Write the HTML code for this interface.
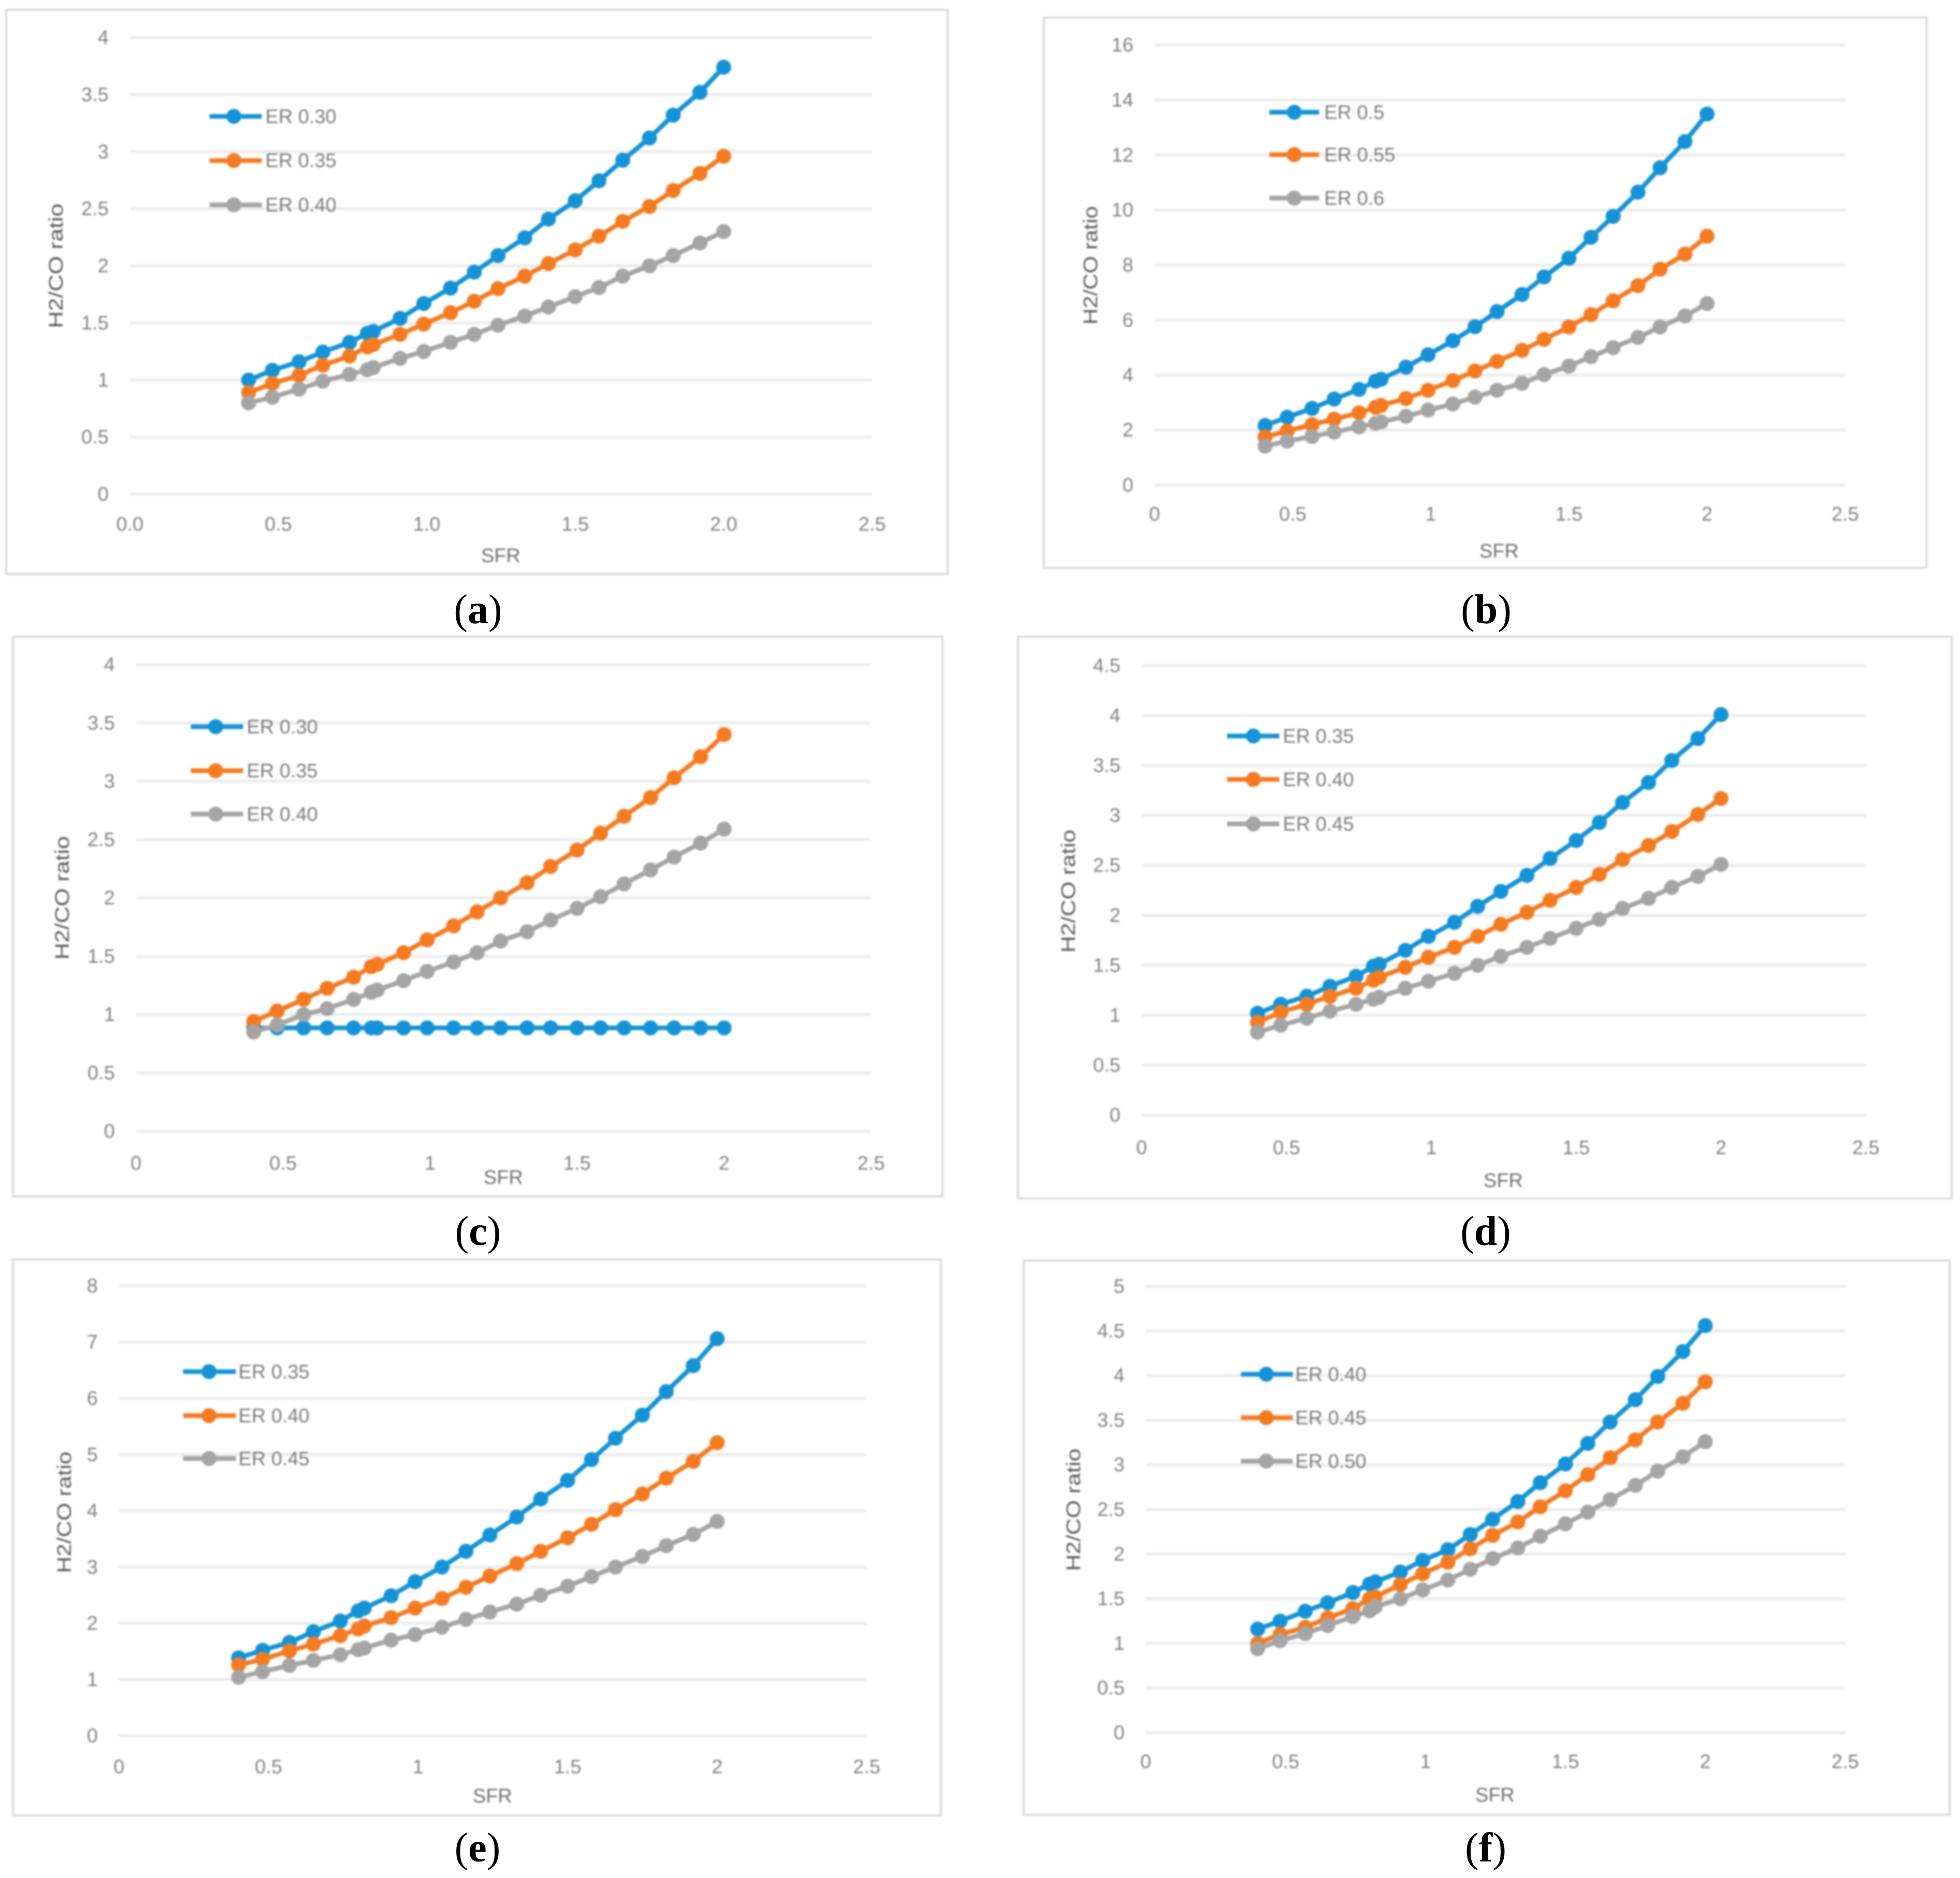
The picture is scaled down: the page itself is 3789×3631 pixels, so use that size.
<!DOCTYPE html>
<html lang="en">
<head>
<meta charset="utf-8">
<title>H2/CO ratio versus SFR</title>
<style>
html,body{margin:0;padding:0;background:#fff;width:3789px;height:3631px;overflow:hidden}
svg{display:block}
text{font-family:"Liberation Sans",sans-serif}
.panel{filter:blur(1.8px)}
.frame{fill:#fff;stroke:#d9d9d9;stroke-width:4}
.tick{font-size:38px;fill:#808080}
.ytitle{font-size:38px;fill:#595959}
.xtitle{font-size:38px;fill:#6e6e6e;text-anchor:middle}
.leg{font-size:38px;fill:#7a7a7a}
.cap{font-family:"Liberation Serif",serif;font-size:80px;fill:#000;text-anchor:middle}
.cap tspan{font-weight:bold}
.blue{stroke:#1593d6;fill:#1593d6}
.orange{stroke:#f57b22;fill:#f57b22}
.gray{stroke:#a5a5a5;fill:#a5a5a5}
.legline{stroke-width:9}
.legdot{stroke:none}
</style>
</head>
<body>
<svg id="figure" xmlns="http://www.w3.org/2000/svg" width="3789" height="3631" viewBox="0 0 3789 3631">

<g id="panel-a" class="panel">
  <rect class="frame" x="12" y="19" width="1820" height="1091"/>
  <text class="ytitle" transform="translate(121,514) rotate(-90)" text-anchor="middle" textLength="241" lengthAdjust="spacingAndGlyphs">H2/CO ratio</text>
  <text class="xtitle" x="968" y="1087">SFR</text>
  <g class="legend">
    <g><line class="blue legline" x1="405" x2="506" y1="225" y2="225"/><circle class="blue legdot" cx="452" cy="225" r="14.5"/><text class="leg" x="513" y="238">ER 0.30</text></g>
    <g><line class="orange legline" x1="405" x2="506" y1="310.5" y2="310.5"/><circle class="orange legdot" cx="452" cy="310.5" r="14.5"/><text class="leg" x="513" y="323">ER 0.35</text></g>
    <g><line class="gray legline" x1="405" x2="506" y1="396" y2="396"/><circle class="gray legdot" cx="452" cy="396" r="14.5"/><text class="leg" x="513" y="409">ER 0.40</text></g>
  </g>
</g>

<g id="panel-b" class="panel">
  <rect class="frame" x="2018" y="34" width="1706" height="1064"/>
  <text class="ytitle" transform="translate(2121,513) rotate(-90)" text-anchor="middle" textLength="229" lengthAdjust="spacingAndGlyphs">H2/CO ratio</text>
  <text class="xtitle" x="2898" y="1078">SFR</text>
  <g class="legend">
    <g><line class="blue legline" x1="2454" x2="2550" y1="217" y2="217"/><circle class="blue legdot" cx="2502" cy="217" r="14.5"/><text class="leg" x="2560" y="230">ER 0.5</text></g>
    <g><line class="orange legline" x1="2454" x2="2550" y1="299" y2="299"/><circle class="orange legdot" cx="2502" cy="299" r="14.5"/><text class="leg" x="2560" y="312">ER 0.55</text></g>
    <g><line class="gray legline" x1="2454" x2="2550" y1="383" y2="383"/><circle class="gray legdot" cx="2502" cy="383" r="14.5"/><text class="leg" x="2560" y="396">ER 0.6</text></g>
  </g>
</g>

<g id="panel-c" class="panel">
  <rect class="frame" x="25" y="1231" width="1797" height="1082"/>
  <text class="ytitle" transform="translate(133,1736) rotate(-90)" text-anchor="middle" textLength="239" lengthAdjust="spacingAndGlyphs">H2/CO ratio</text>
  <text class="xtitle" x="973" y="2289">SFR</text>
  <g class="legend">
    <g><line class="blue legline" x1="369" x2="470" y1="1405" y2="1405"/><circle class="blue legdot" cx="417" cy="1405" r="14.5"/><text class="leg" x="477" y="1418">ER 0.30</text></g>
    <g><line class="orange legline" x1="369" x2="470" y1="1490" y2="1490"/><circle class="orange legdot" cx="417" cy="1490" r="14.5"/><text class="leg" x="477" y="1503">ER 0.35</text></g>
    <g><line class="gray legline" x1="369" x2="470" y1="1574" y2="1574"/><circle class="gray legdot" cx="417" cy="1574" r="14.5"/><text class="leg" x="477" y="1587">ER 0.40</text></g>
  </g>
</g>

<g id="panel-d" class="panel">
  <rect class="frame" x="1968" y="1231" width="1805" height="1086"/>
  <text class="ytitle" transform="translate(2078,1723) rotate(-90)" text-anchor="middle" textLength="238" lengthAdjust="spacingAndGlyphs">H2/CO ratio</text>
  <text class="xtitle" x="2906" y="2295">SFR</text>
  <g class="legend">
    <g><line class="blue legline" x1="2372" x2="2473" y1="1423" y2="1423"/><circle class="blue legdot" cx="2423" cy="1423" r="14.5"/><text class="leg" x="2480" y="1436">ER 0.35</text></g>
    <g><line class="orange legline" x1="2372" x2="2473" y1="1507" y2="1507"/><circle class="orange legdot" cx="2423" cy="1507" r="14.5"/><text class="leg" x="2480" y="1520">ER 0.40</text></g>
    <g><line class="gray legline" x1="2372" x2="2473" y1="1593" y2="1593"/><circle class="gray legdot" cx="2423" cy="1593" r="14.5"/><text class="leg" x="2480" y="1606">ER 0.45</text></g>
  </g>
</g>

<g id="panel-e" class="panel">
  <rect class="frame" x="25" y="2435" width="1794" height="1075"/>
  <text class="ytitle" transform="translate(137,2924) rotate(-90)" text-anchor="middle" textLength="235" lengthAdjust="spacingAndGlyphs">H2/CO ratio</text>
  <text class="xtitle" x="952" y="3485">SFR</text>
  <g class="legend">
    <g><line class="blue legline" x1="354" x2="456" y1="2652" y2="2652"/><circle class="blue legdot" cx="404" cy="2652" r="14.5"/><text class="leg" x="461" y="2665">ER 0.35</text></g>
    <g><line class="orange legline" x1="354" x2="456" y1="2737" y2="2737"/><circle class="orange legdot" cx="404" cy="2737" r="14.5"/><text class="leg" x="461" y="2750">ER 0.40</text></g>
    <g><line class="gray legline" x1="354" x2="456" y1="2820" y2="2820"/><circle class="gray legdot" cx="404" cy="2820" r="14.5"/><text class="leg" x="461" y="2833">ER 0.45</text></g>
  </g>
</g>

<g id="panel-f" class="panel">
  <rect class="frame" x="1979" y="2437" width="1790" height="1072"/>
  <text class="ytitle" transform="translate(2088,2919) rotate(-90)" text-anchor="middle" textLength="237" lengthAdjust="spacingAndGlyphs">H2/CO ratio</text>
  <text class="xtitle" x="2890" y="3483">SFR</text>
  <g class="legend">
    <g><line class="blue legline" x1="2399" x2="2499" y1="2657" y2="2657"/><circle class="blue legdot" cx="2448" cy="2657" r="14.5"/><text class="leg" x="2504" y="2670">ER 0.40</text></g>
    <g><line class="orange legline" x1="2399" x2="2499" y1="2741" y2="2741"/><circle class="orange legdot" cx="2448" cy="2741" r="14.5"/><text class="leg" x="2504" y="2754">ER 0.45</text></g>
    <g><line class="gray legline" x1="2399" x2="2499" y1="2825" y2="2825"/><circle class="gray legdot" cx="2448" cy="2825" r="14.5"/><text class="leg" x="2504" y="2838">ER 0.50</text></g>
  </g>
</g>

<text class="cap" x="924" y="1205">(<tspan>a</tspan>)</text>
<text class="cap" x="2873" y="1205">(<tspan>b</tspan>)</text>
<text class="cap" x="924" y="2407">(<tspan>c</tspan>)</text>
<text class="cap" x="2872" y="2407">(<tspan>d</tspan>)</text>
<text class="cap" x="923" y="3599">(<tspan>e</tspan>)</text>
<text class="cap" x="2872" y="3599">(<tspan>f</tspan>)</text>
</svg>

<script>
// Shared SFR categories
const sfrValues = [0.4,0.48,0.57,0.65,0.74,0.80,0.82,0.91,0.99,1.08,1.16,1.24,1.33,1.41,1.50,1.58,1.66,1.75,1.83,1.92,2.0];

// Tick labels
const xTicksA = ['0.0','0.5','1.0','1.5','2.0','2.5'];
const xTicksOther = ['0','0.5','1','1.5','2','2.5'];
const yTicksA = ['0','0.5','1','1.5','2','2.5','3','3.5','4'];
const yTicksB = ['0','2','4','6','8','10','12','14','16'];
const yTicksC = ['0','0.5','1','1.5','2','2.5','3','3.5','4'];
const yTicksD = ['0','0.5','1','1.5','2','2.5','3','3.5','4','4.5'];
const yTicksE = ['0','1','2','3','4','5','6','7','8'];
const yTicksF = ['0','0.5','1','1.5','2','2.5','3','3.5','4','4.5','5'];

// Panel (a)
const aEr30 = [1.00,1.085,1.16,1.245,1.33,1.41,1.425,1.54,1.67,1.805,1.945,2.09,2.245,2.41,2.57,2.745,2.925,3.12,3.32,3.52,3.74];
const aEr35 = [0.89,0.97,1.04,1.13,1.21,1.29,1.31,1.40,1.49,1.59,1.69,1.80,1.91,2.02,2.14,2.26,2.39,2.52,2.66,2.81,2.96];
const aEr40 = [0.80,0.85,0.92,0.99,1.05,1.09,1.11,1.19,1.25,1.33,1.40,1.48,1.56,1.64,1.73,1.81,1.91,2.00,2.09,2.20,2.30];

// Panel (b)
const bEr50 = [2.17,2.47,2.79,3.13,3.48,3.78,3.85,4.29,4.74,5.25,5.76,6.31,6.93,7.57,8.25,9.01,9.77,10.65,11.54,12.49,13.49];
const bEr55 = [1.75,1.97,2.20,2.40,2.63,2.83,2.90,3.15,3.45,3.80,4.15,4.50,4.90,5.30,5.75,6.20,6.70,7.25,7.85,8.40,9.05];
const bEr60 = [1.42,1.60,1.77,1.93,2.12,2.25,2.30,2.50,2.73,2.95,3.20,3.45,3.70,4.02,4.33,4.67,5.00,5.37,5.75,6.15,6.60];

// Panel (c)
const cEr30 = [0.885,0.885,0.885,0.885,0.885,0.885,0.885,0.885,0.885,0.885,0.885,0.885,0.885,0.885,0.885,0.885,0.885,0.885,0.885,0.885,0.885];
const cEr35 = [0.94,1.03,1.13,1.225,1.32,1.41,1.43,1.53,1.64,1.76,1.88,2.00,2.13,2.27,2.41,2.555,2.70,2.86,3.03,3.21,3.40];
const cEr40 = [0.85,0.91,1.00,1.05,1.13,1.19,1.21,1.29,1.37,1.45,1.53,1.63,1.71,1.81,1.91,2.01,2.12,2.24,2.35,2.47,2.59];

// Panel (d)
const dEr35 = [1.02,1.11,1.19,1.29,1.39,1.49,1.51,1.65,1.79,1.93,2.09,2.24,2.40,2.57,2.75,2.93,3.13,3.33,3.55,3.77,4.01];
const dEr40 = [0.93,1.03,1.11,1.19,1.27,1.35,1.38,1.48,1.58,1.68,1.79,1.91,2.03,2.15,2.28,2.41,2.56,2.70,2.84,3.01,3.17];
const dEr45 = [0.83,0.90,0.97,1.04,1.11,1.16,1.18,1.27,1.34,1.42,1.50,1.59,1.68,1.77,1.87,1.96,2.07,2.17,2.28,2.39,2.51];

// Panel (e)
const eEr35 = [1.385,1.52,1.66,1.85,2.04,2.22,2.27,2.49,2.74,3.00,3.28,3.57,3.89,4.21,4.54,4.91,5.29,5.70,6.12,6.58,7.06];
const eEr40 = [1.26,1.36,1.51,1.63,1.78,1.90,1.95,2.10,2.27,2.44,2.64,2.84,3.06,3.28,3.52,3.76,4.02,4.30,4.58,4.88,5.21];
const eEr45 = [1.04,1.14,1.25,1.34,1.44,1.53,1.56,1.70,1.80,1.93,2.07,2.20,2.34,2.50,2.66,2.83,3.00,3.19,3.38,3.58,3.81];

// Panel (f)
const fEr40 = [1.16,1.25,1.36,1.455,1.57,1.665,1.69,1.80,1.93,2.05,2.22,2.39,2.59,2.80,3.01,3.24,3.48,3.73,3.99,4.27,4.56];
const fEr45 = [1.00,1.10,1.18,1.285,1.39,1.50,1.52,1.66,1.78,1.91,2.06,2.21,2.36,2.53,2.71,2.89,3.08,3.28,3.48,3.69,3.93];
const fEr50 = [0.94,1.03,1.11,1.20,1.30,1.365,1.41,1.50,1.60,1.71,1.83,1.95,2.07,2.20,2.34,2.47,2.61,2.77,2.93,3.09,3.26];

const SVG_NS = 'http://www.w3.org/2000/svg';

function makeSvg(tag, attrs) {
  const el = document.createElementNS(SVG_NS, tag);
  for (const k in attrs) el.setAttribute(k, attrs[k]);
  return el;
}

function drawPanel(panelId, box, xTicks, yTicks, series) {
  const panel = document.getElementById(panelId);
  const xMax = Number(xTicks[xTicks.length - 1]);
  const yMax = Number(yTicks[yTicks.length - 1]);
  const xScale = v => box.left + (v / xMax) * (box.right - box.left);
  const yScale = v => box.bottom - (v / yMax) * (box.bottom - box.top);
  const anchor = panel.querySelector('.legend');

  const axes = makeSvg('g', {});
  
  
  panel.insertBefore(axes, anchor);

  yTicks.forEach(label => {
    const yPos = yScale(Number(label));
    const grid = makeSvg('line', {x1: box.left, x2: box.right, y1: yPos, y2: yPos, stroke: '#ececec', 'stroke-width': 6});
    
    
    axes.appendChild(grid);
    const t = makeSvg('text', {class: 'tick', x: box.left - 41, y: yPos + 12.5, 'text-anchor': 'end'});
    t.textContent = label;
    
    
    axes.appendChild(t);
  });

  xTicks.forEach(label => {
    const t = makeSvg('text', {class: 'tick', x: xScale(Number(label)), y: box.bottom + box.tickDrop + 12.5, 'text-anchor': 'middle'});
    t.textContent = label;
    
    
    axes.appendChild(t);
  });

  series.forEach(s => {
    const g = makeSvg('g', {class: s.cls});
    
    
    const pts = s.values.map((v, i) => xScale(sfrValues[i]) + ',' + yScale(v)).join(' ');
    const line = makeSvg('polyline', {points: pts, style: 'fill:none', 'stroke-width': 9, 'stroke-linejoin': 'round'});
    
    
    g.appendChild(line);
    s.values.forEach((v, i) => {
      const c = makeSvg('circle', {cx: xScale(sfrValues[i]), cy: yScale(v), r: 14.5, style: 'stroke:none'});
      
      
      g.appendChild(c);
    });
    panel.insertBefore(g, anchor);
  });
}

drawPanel('panel-a', {left: 251, right: 1686, top: 72.5, bottom: 955.5, tickDrop: 58}, xTicksA, yTicksA, [
  {name: 'er-0.30', cls: 'blue', values: aEr30},
  {name: 'er-0.35', cls: 'orange', values: aEr35},
  {name: 'er-0.40', cls: 'gray', values: aEr40}
]);
drawPanel('panel-b', {left: 2232, right: 3567, top: 87, bottom: 938, tickDrop: 56}, xTicksOther, yTicksB, [
  {name: 'er-0.5', cls: 'blue', values: bEr50},
  {name: 'er-0.55', cls: 'orange', values: bEr55},
  {name: 'er-0.6', cls: 'gray', values: bEr60}
]);
drawPanel('panel-c', {left: 263, right: 1684, top: 1285, bottom: 2187, tickDrop: 62}, xTicksOther, yTicksC, [
  {name: 'er-0.30', cls: 'blue', values: cEr30},
  {name: 'er-0.35', cls: 'orange', values: cEr35},
  {name: 'er-0.40', cls: 'gray', values: cEr40}
]);
drawPanel('panel-d', {left: 2207, right: 3607, top: 1287, bottom: 2156, tickDrop: 63}, xTicksOther, yTicksD, [
  {name: 'er-0.35', cls: 'blue', values: dEr35},
  {name: 'er-0.40', cls: 'orange', values: dEr40},
  {name: 'er-0.45', cls: 'gray', values: dEr45}
]);
drawPanel('panel-e', {left: 230, right: 1675.5, top: 2486, bottom: 3356, tickDrop: 60}, xTicksOther, yTicksE, [
  {name: 'er-0.35', cls: 'blue', values: eEr35},
  {name: 'er-0.40', cls: 'orange', values: eEr40},
  {name: 'er-0.45', cls: 'gray', values: eEr45}
]);
drawPanel('panel-f', {left: 2215, right: 3567, top: 2487, bottom: 3350, tickDrop: 56}, xTicksOther, yTicksF, [
  {name: 'er-0.40', cls: 'blue', values: fEr40},
  {name: 'er-0.45', cls: 'orange', values: fEr45},
  {name: 'er-0.50', cls: 'gray', values: fEr50}
]);
</script>
</body>
</html>
